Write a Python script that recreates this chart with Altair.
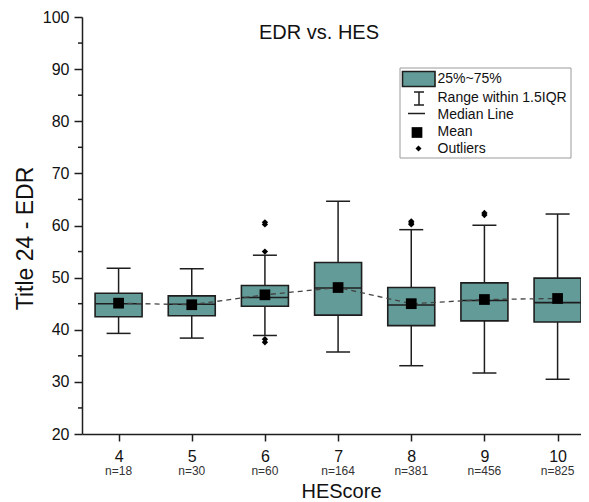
import altair as alt
import pandas as pd

# ---- data ----
scores = [4, 5, 6, 7, 8, 9, 10]
counts = [18, 30, 60, 164, 381, 456, 825]
q1 = [42.5, 42.7, 44.5, 42.8, 40.8, 41.7, 41.5]
q3 = [47.0, 46.5, 48.5, 52.9, 48.1, 49.0, 49.9]
medians = [45.0, 44.9, 46.2, 48.0, 44.75, 45.6, 45.2]
means = [45.1, 44.8, 46.7, 48.1, 45.0, 45.8, 46.0]
whisk_lo = [39.3, 38.4, 38.9, 35.75, 33.1, 31.7, 30.5]
whisk_hi = [51.8, 51.7, 54.3, 64.65, 59.2, 60.05, 62.2]
outlier_score = [6, 6, 6, 6, 6, 8, 8, 8, 9, 9]
outlier_value = [60.6, 60.2, 55.0, 38.2, 37.6, 60.8, 60.5, 60.2, 62.4, 62.0]
y_major = [20, 30, 40, 50, 60, 70, 80, 90, 100]
y_minor = [25, 35, 45, 55, 65, 75, 85, 95]
legend_labels = ["25%~75%", "Range within 1.5IQR", "Median Line", "Mean", "Outliers"]

box_df = pd.DataFrame({
    "score": scores, "q1": q1, "q3": q3, "median": medians, "mean": means,
    "lo": whisk_lo, "hi": whisk_hi,
    "nlabel": ["n=" + str(c) for c in counts],
})
out_df = pd.DataFrame({"score": outlier_score, "value": outlier_value})
minor_df = pd.DataFrame({"v": y_minor})
one = pd.DataFrame({"k": [0]})

FONT = "Liberation Sans"
INK = "#1E1E1E"
TEAL = "#639B98"
W, H = 499, 417

xs = alt.Scale(domain=[3.5, 10.32], nice=False, zero=False, padding=0)
ys = alt.Scale(domain=[20, 100], nice=False, zero=False, padding=0)

x_axis = alt.Axis(values=scores, format="d", tickSize=7, tickWidth=1.5, tickColor=INK,
                  domainColor=INK, domainWidth=1.5, grid=False,
                  labelFont=FONT, labelFontSize=16, labelColor="#111",
                  labelBaseline="alphabetic", labelPadding=20.5,
                  title="HEScore", titleFont=FONT, titleFontSize=20, titleFontWeight="normal",
                  titleColor="#111", titleX=259, titleY=63, titleAlign="center",
                  titleBaseline="alphabetic")
y_axis = alt.Axis(values=y_major, tickSize=8, tickWidth=1.5, tickColor=INK,
                  domainColor=INK, domainWidth=1.5, grid=False,
                  labelFont=FONT, labelFontSize=16, labelColor="#111", labelPadding=5,
                  title="Title 24 - EDR", titleFont=FONT, titleFontSize=23,
                  titleFontWeight="normal", titleColor="#111", titleAngle=-90,
                  titleX=-56.5, titleY=221, titleAlign="center", titleBaseline="middle")


def X():
    return alt.X("score:Q", scale=xs, axis=x_axis)


def Y(field):
    return alt.Y(field, scale=ys, axis=y_axis)


base = alt.Chart(box_df)

whisk_low = base.mark_rule(color=INK, strokeWidth=1.5).encode(
    x=X(), y=Y("lo:Q"), y2="q1:Q")
whisk_high = base.mark_rule(color=INK, strokeWidth=1.5).encode(
    x=X(), y=Y("q3:Q"), y2="hi:Q")
cap_lo = base.mark_tick(orient="horizontal", size=24, thickness=1.5, color=INK, opacity=1).encode(
    x=X(), y=Y("lo:Q"))
cap_hi = base.mark_tick(orient="horizontal", size=24, thickness=1.5, color=INK, opacity=1).encode(
    x=X(), y=Y("hi:Q"))
boxes = base.mark_bar(size=47, fill=TEAL, stroke=INK, strokeWidth=1.6).encode(
    x=X(), y=Y("q1:Q"), y2="q3:Q")
med = base.mark_tick(orient="horizontal", size=47, thickness=1.6, color=INK, opacity=1).encode(
    x=X(), y=Y("median:Q"))
mean_line = base.mark_line(color="#444", strokeDash=[5, 4], strokeWidth=1.3).encode(
    x=X(), y=Y("mean:Q"))
mean_pts = base.mark_point(shape="square", filled=True, size=115, color="black", opacity=1).encode(
    x=X(), y=Y("mean:Q"))
outliers = alt.Chart(out_df).mark_point(shape="diamond", filled=True, size=40, color="black",
                                          opacity=1).encode(
    x=X(), y=Y("value:Q"))
nlabels = base.mark_text(font=FONT, fontSize=12, baseline="alphabetic", color="#333").encode(
    x=X(), y=alt.value(458), text="nlabel:N")
minor = alt.Chart(minor_df).mark_rule(color=INK, strokeWidth=1.5).encode(
    y=Y("v:Q"), x=alt.value(-4), x2=alt.value(0))

title = alt.Chart(one).mark_text(text="EDR vs. HES", font=FONT, fontSize=20, align="center",
                                 baseline="alphabetic", color="#111").encode(
    x=alt.value(237), y=alt.value(21.6))

# ---- hand-made legend ----
leg = [
    alt.Chart(one).mark_rect(fill="white", stroke="#9a9a9a", strokeWidth=1).encode(
        x=alt.value(318), x2=alt.value(489), y=alt.value(51), y2=alt.value(141)),
    alt.Chart(one).mark_rect(fill=TEAL, stroke=INK, strokeWidth=1.6).encode(
        x=alt.value(320.5), x2=alt.value(353), y=alt.value(54.5), y2=alt.value(69.5)),
    alt.Chart(one).mark_rule(color=INK, strokeWidth=1.5).encode(
        x=alt.value(337), y=alt.value(75), y2=alt.value(88)),
    alt.Chart(one).mark_rule(color=INK, strokeWidth=1.5).encode(
        x=alt.value(332), x2=alt.value(342), y=alt.value(75)),
    alt.Chart(one).mark_rule(color=INK, strokeWidth=1.5).encode(
        x=alt.value(332), x2=alt.value(342), y=alt.value(88)),
    alt.Chart(one).mark_rule(color=INK, strokeWidth=1.5).encode(
        x=alt.value(326), x2=alt.value(343), y=alt.value(96.5)),
    alt.Chart(one).mark_point(shape="square", filled=True, size=115, color="black",
                              opacity=1).encode(x=alt.value(335), y=alt.value(115.5)),
    alt.Chart(one).mark_point(shape="diamond", filled=True, size=36, color="black",
                              opacity=1).encode(x=alt.value(336.5), y=alt.value(131.5)),
]
leg_y = [62, 80.5, 97.5, 115, 132]
for lab, ly in zip(legend_labels, leg_y):
    leg.append(alt.Chart(one).mark_text(text=lab, font=FONT, fontSize=14, align="left",
                                        baseline="middle", color="#111").encode(
        x=alt.value(355.5), y=alt.value(ly)))

chart = alt.layer(
    whisk_low, whisk_high, cap_lo, cap_hi, boxes, med, mean_line, mean_pts, outliers,
    nlabels, minor, title, *leg
).properties(
    width=W, height=H,
    padding={"left": 74, "top": 9, "right": 0, "bottom": 66},
    autosize=alt.AutoSizeParams(type="none"),
).configure_view(stroke=None)

chart.save("out.html", embed_options={"renderer": "svg", "actions": False})
